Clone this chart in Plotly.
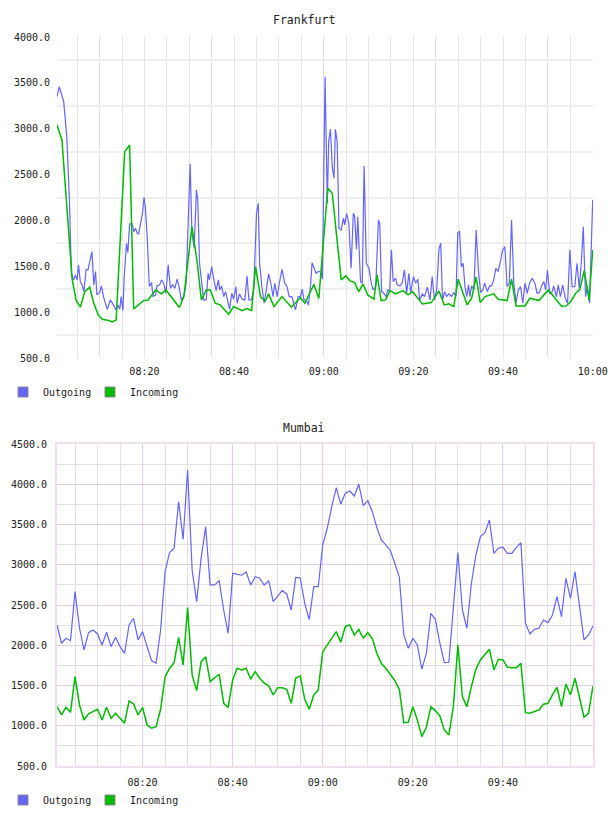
import plotly.graph_objects as go
import pandas as pd

# ---------------- data ----------------
# Frankfurt: minutes after 08:00 and values
fra_out_min = [0.5, 1.0, 2.0, 2.7, 3.3, 3.7, 4.2, 4.6, 5.0, 5.3, 5.7, 6.1, 6.5, 7.0, 7.4, 7.8, 8.3, 8.7, 9.1, 9.4,
               10.0, 10.4, 10.9, 11.7, 12.4, 13.1, 13.7, 14.1, 14.5, 14.8, 15.2, 15.5, 16.0, 16.3, 16.7, 17.3, 17.6,
               18.0, 18.4, 18.7, 19.3, 19.6, 19.9, 20.2, 20.6, 21.1, 21.6, 21.9, 22.5, 22.8, 23.4, 23.8, 24.3, 24.8,
               25.3, 25.8, 26.3, 26.8, 27.3, 27.8, 28.2, 28.8, 29.3, 29.7, 30.2, 30.6, 31.1, 31.6, 31.9, 32.3, 32.7,
               33.2, 33.8, 34.2, 34.5, 35.0, 35.5, 36.0, 36.5, 36.8, 37.2, 37.7, 38.1, 38.6, 39.0, 39.5, 39.9, 40.4,
               40.7, 41.2, 41.8, 42.4, 42.9, 43.3, 43.9, 44.4, 45.0, 45.4, 45.7, 46.2, 46.7, 47.2, 47.7, 48.2, 48.7,
               49.1, 49.6, 50.1, 50.7, 51.3, 51.8, 52.3, 52.9, 53.7, 54.3, 54.8, 55.2, 55.6, 56.1, 56.6, 57.1, 57.4,
               57.9, 58.3, 58.8, 59.3, 59.7, 60.3, 60.8, 61.1, 61.5, 61.9, 62.3, 62.6, 63.0, 63.4, 63.9, 64.4, 64.7,
               65.1, 65.6, 66.1, 66.6, 66.9, 67.3, 67.6, 68.2, 68.6, 69.0, 69.5, 70.1, 70.6, 71.0, 71.6, 72.2, 72.5,
               72.9, 73.4, 73.9, 74.3, 74.7, 75.1, 75.5, 76.0, 76.4, 77.0, 77.5, 78.0, 78.5, 79.0, 79.4, 80.0, 80.5,
               81.0, 81.4, 82.0, 82.5, 83.1, 83.7, 84.2, 84.7, 85.2, 85.7, 86.1, 86.5, 87.0, 87.4, 87.9, 88.5, 89.0,
               89.5, 89.9, 90.3, 90.7, 91.1, 91.5, 91.9, 92.3, 92.6, 93.0, 93.5, 94.0, 94.5, 95.0, 95.5, 95.9, 96.5,
               97.0, 97.4, 97.9, 98.4, 98.9, 99.4, 99.9, 100.4, 100.9, 101.4, 101.9, 102.4, 102.9, 103.4, 103.9,
               104.4, 104.9, 105.4, 105.9, 106.5, 107.1, 107.6, 108.1, 108.6, 109.1, 109.5, 109.9, 110.4, 110.8,
               111.3, 111.9, 112.3, 112.8, 113.3, 113.9, 114.4, 114.9, 115.4, 116.0, 116.5, 117.0, 117.5, 117.9,
               118.4, 118.8, 119.3, 120.0]
fra_out_val = [3350, 3458, 3295, 2896, 2187, 1424, 1351, 1406, 1351, 1515, 1333, 1297, 1224, 1467, 1460, 1569, 1660, 1297, 1442, 1188,
               1213, 1286, 1163, 1031, 1133, 1079, 1017, 1079, 1031, 1170, 1017, 1388, 1751, 1649, 1962, 1962, 1878,
               1915, 1860, 1853, 2041, 2085, 2253, 2150, 1842, 1279, 1322, 1170, 1188, 1286, 1297, 1351, 1315, 1206,
               1515, 1261, 1297, 1261, 1359, 1261, 1133, 1170, 1315, 1824, 2616, 1860, 1697, 2332, 2223, 1533, 1315,
               1133, 1133, 1424, 1351, 1496, 1351, 1235, 1351, 1242, 1286, 1170, 1224, 1133, 1031, 1206, 1141, 1279,
               1097, 1199, 1141, 1133, 1395, 1133, 1133, 1261, 2078, 2187, 1533, 1279, 1097, 1242, 1417, 1315, 1170,
               1315, 1170, 1315, 1467, 1315, 1279, 1170, 1170, 1024, 1170, 1170, 1250, 1133, 1133, 1079, 1315, 1540,
               1460, 1424, 1442, 1442, 1359, 3567, 2187, 2859, 2994, 2587, 2460, 2994, 2859, 1915, 1896, 2024, 1951,
               2078, 1969, 1479, 2078, 2049, 1686, 2041, 1333, 1315, 2594, 1533, 1479, 1315, 1242, 1279, 2005, 1962,
               1224, 1206, 1170, 1242, 1224, 1678, 1333, 1370, 1297, 1286, 1315, 1460, 1206, 1424, 1213, 1388, 1315,
               1359, 1133, 1199, 1170, 1272, 1133, 1388, 1133, 1242, 1686, 1751, 1133, 1224, 1170, 1199, 1170, 1213,
               1170, 1867, 1878, 1496, 1533, 1279, 1170, 1297, 1170, 1286, 1242, 1896, 1460, 1213, 1242, 1315, 1224,
               1286, 1286, 1344, 1479, 1442, 1551, 1678, 1715, 1279, 1315, 2005, 1315, 1097, 1242, 1279,
               1097, 1315, 1206, 1315, 1370, 1315, 1206, 1213, 1286, 1333, 1242, 1460, 1206, 1199,
               1286, 1170, 1297, 1170, 1297, 1152, 1097, 1678, 1279, 1279, 1533, 1261, 1569, 1932,
               1170, 1279, 1097, 2223]

fra_in_min = [0.5, 1.6, 3.9, 4.75, 5.7, 6.7, 7.8, 8.7, 9.7, 10.6, 12.0, 12.8, 13.7, 15.6, 16.7, 17.6, 19.8, 20.8,
              22.5, 23.8, 24.8, 27.8, 28.8, 30.6, 31.8, 32.7, 33.8, 34.7, 35.8, 36.9, 38.8, 39.9, 41.8, 42.9, 43.9,
              44.8, 45.9, 47.0, 47.7, 48.9, 50.7, 52.8, 54.8, 55.8, 57.8, 58.9, 60.9, 61.9, 63.9, 64.9, 65.8, 66.9,
              67.8, 68.8, 69.8, 71.2, 71.9, 72.8, 73.8, 74.8, 76.0, 77.7, 78.8, 79.8, 82.0, 84.0, 85.7, 86.9, 87.9,
              89.0, 90.0, 91.0, 92.0, 93.0, 94.0, 94.9, 96.0, 97.9, 98.9, 100.9, 101.9, 102.9, 104.9, 106.0, 108.0,
              110.1, 113.1, 114.1, 115.1, 116.2, 117.1, 118.1, 119.2, 120.0]
fra_in_val = [3041, 2877, 1351, 1133, 1054, 1224, 1272, 1097, 970, 923, 908, 894, 915, 2750, 2823, 1035, 1126, 1133,
              1242, 1199, 1242, 1050, 1170, 1932, 1533, 1133, 1242, 1242, 1097, 1079, 977, 1061, 1017, 1039, 1017,
              1496, 1163, 1122, 1199, 1061, 1170, 1054, 1159, 1097, 1304, 1148, 2351, 2296, 1351, 1395, 1344, 1322,
              1224, 1304, 1188, 1141, 1406, 1126, 1133, 1235, 1199, 1235, 1188, 1224, 1090, 1104, 1231, 1079, 1090,
              1061, 1359, 1206, 1079, 1152, 1381, 1104, 1170, 1199, 1141, 1126, 1359, 1068, 1068, 1152, 1126,
              1242, 1061, 1068, 1115, 1206, 1242, 1453, 1133, 1678]

# Mumbai: one sample per minute starting 08:01
mum_out = [2252, 2025, 2087, 2057, 2666, 2211, 1941, 2156, 2190, 2140,
           2004, 2161, 1983, 2099, 1983, 1900, 2252, 2335, 2066, 2169,
           1983, 1809, 1776, 2190, 2914, 3150, 3205, 3783, 3316, 4177,
           2935, 2542, 3080, 3473, 2749, 2749, 2802, 2438, 2148, 2894,
           2880, 2870, 2910, 2749, 2852, 2832, 2749, 2802, 2542, 2604,
           2678, 2637, 2438, 2844, 2839, 2521, 2320, 2728, 2728, 3246,
           3453, 3721, 3957, 3755, 3888, 3916, 3854, 4003, 3734, 3796,
           3659, 3465, 3308, 3246, 3175, 3018, 2844, 2128, 1963, 2087,
           2004, 1702, 1900, 2397, 2322, 2025, 1784, 1789, 2450, 3150,
           2438, 2211, 2770, 3121, 3349, 3398, 3556, 3142, 3205, 3217,
           3142, 3142, 3217, 3274, 2273, 2140, 2198, 2211, 2314, 2281,
           2376, 2604, 2355, 2832, 2583, 2914, 2490, 2066, 2128, 2240]
mum_in = [1237, 1134, 1229, 1167, 1610, 1258, 1072, 1147, 1175, 1205,
          1072, 1229, 1093, 1155, 1093, 1031, 1308, 1271, 1134, 1229,
          1010, 969, 989, 1205, 1610, 1714, 1784, 2099, 1755, 2467,
          1631, 1436, 1796, 1858, 1548, 1590, 1640, 1279, 1229, 1569,
          1714, 1693, 1714, 1578, 1672, 1590, 1528, 1495, 1383, 1473,
          1473, 1453, 1279, 1590, 1619, 1329, 1205, 1383, 1445, 1920,
          2004, 2087, 2169, 2037, 2231, 2252, 2128, 2198, 2087, 2156,
          2087, 1900, 1776, 1714, 1643, 1560, 1453, 1039, 1044, 1237,
          1072, 865, 981, 1237, 1188, 1122, 948, 886, 1237, 2004,
          1362, 1237, 1486, 1702, 1817, 1879, 1950, 1693, 1826, 1817,
          1726, 1722, 1722, 1776, 1163, 1155, 1175, 1196, 1267, 1279,
          1383, 1478, 1237, 1519, 1383, 1590, 1354, 1106, 1155, 1495]

series_names = ["Outgoing", "Incoming"]
fra_y_ticks = [500, 1000, 1500, 2000, 2500, 3000, 3500, 4000]
fra_y_grid = [750, 1250, 1750, 2250, 2750, 3250, 3750]
mum_y_ticks = [500, 1000, 1500, 2000, 2500, 3000, 3500, 4000, 4500]
mum_y_minor = [750, 1250, 1750, 2250, 2750, 3250, 3750, 4250]
fra_x_labels = ["08:20", "08:40", "09:00", "09:20", "09:40", "10:00"]
mum_x_labels = ["08:20", "08:40", "09:00", "09:20", "09:40"]
grid_5min = ["08:05", "08:10", "08:15", "08:20", "08:25", "08:30", "08:35", "08:40", "08:45", "08:50",
             "08:55", "09:00", "09:05", "09:10", "09:15", "09:20", "09:25", "09:30", "09:35", "09:40",
             "09:45", "09:50", "09:55", "10:00"]

DAY = "2024-01-01 "
base = pd.Timestamp(DAY + "08:00:00")


def to_times(mins):
    return [base + pd.Timedelta(minutes=m) for m in mins]


def clock(labels):
    return [DAY + s + ":00" for s in labels]


mum_times = pd.date_range(DAY + "08:01:00", periods=len(mum_out), freq="60s")

BLUE = "#6464ff"
GREEN = "#00bb00"
COLORS = [BLUE, GREEN]
FONT = "DejaVu Sans Mono"
W, H = 608, 816


def px_x(p):
    return p / W


def px_y(p):
    return (H - p) / H


fig = go.Figure()

# Frankfurt
fig.add_trace(go.Scatter(x=to_times(fra_out_min), y=fra_out_val, mode="lines", name="Outgoing",
                         line=dict(color=BLUE, width=1.2), showlegend=False, xaxis="x", yaxis="y"))
fig.add_trace(go.Scatter(x=to_times(fra_in_min), y=fra_in_val, mode="lines", name="Incoming",
                         line=dict(color=GREEN, width=1.5), showlegend=False, xaxis="x", yaxis="y"))
# Mumbai
fig.add_trace(go.Scatter(x=mum_times, y=mum_out, mode="lines", name="Outgoing",
                         line=dict(color=BLUE, width=1.2), showlegend=False, xaxis="x2", yaxis="y2"))
fig.add_trace(go.Scatter(x=mum_times, y=mum_in, mode="lines", name="Incoming",
                         line=dict(color=GREEN, width=1.5), showlegend=False, xaxis="x2", yaxis="y2"))

# legend swatches: one legend per entry so the spacing can follow the original
legend_ids = [["legend", "legend2"], ["legend3", "legend4"]]
for (xa, ya), ids in zip((("x", "y"), ("x2", "y2")), legend_ids):
    for nm, col, lg in zip(series_names, COLORS, ids):
        fig.add_trace(go.Scatter(x=[None], y=[None], mode="markers", name=nm, legend=lg,
                                 marker=dict(symbol="square", size=10, color=col,
                                             line=dict(color="#8a8a8a", width=1)),
                                 xaxis=xa, yaxis=ya))

tickfont = dict(family=FONT, size=10, color="#222")
GREY_V = "#e4e4e4"
GREY_H = "#efefef"
PINK = "#e6cce6"
PINK_BORDER = "#efdfef"
GREY_MINOR = "#e2e2e2"

legend_common = dict(orientation="h", xanchor="left", yanchor="middle",
                     bgcolor="rgba(0,0,0,0)", font=dict(family=FONT, size=10, color="#222"),
                     itemwidth=30)

fig.update_layout(
    width=W, height=H, autosize=False,
    margin=dict(l=0, r=0, t=0, b=0, pad=0, autoexpand=False),
    paper_bgcolor="white", plot_bgcolor="white",
    font=dict(family=FONT, size=10, color="#222"),
    xaxis=dict(domain=[px_x(57), px_x(593)], anchor="y", type="date",
               range=[DAY + "08:00:30", DAY + "10:00:04"],
               tickmode="array", tickvals=clock(fra_x_labels), ticktext=fra_x_labels,
               showgrid=True, gridcolor=GREY_V, gridwidth=1,
               minor=dict(tickmode="array", tickvals=clock(grid_5min), showgrid=True,
                          gridcolor=GREY_V, gridwidth=1),
               zeroline=False, showline=False, ticks="", tickfont=tickfont,
               ticklabelstandoff=6, automargin=False),
    yaxis=dict(domain=[px_y(358), px_y(37)], anchor="x",
               range=[500, 4000], tickmode="array", tickvals=fra_y_ticks, tickformat=".1f",
               showgrid=False,
               minor=dict(tickmode="array", tickvals=fra_y_grid, showgrid=True,
                          gridcolor=GREY_H, gridwidth=2),
               zeroline=False, showline=False, ticks="", tickfont=tickfont,
               ticklabelstandoff=6, automargin=False),
    xaxis2=dict(domain=[px_x(57), px_x(593)], anchor="y2", type="date",
                range=[DAY + "08:01:00", DAY + "10:00:00"],
                tickmode="array", tickvals=clock(mum_x_labels), ticktext=mum_x_labels,
                showgrid=True, gridcolor=PINK, gridwidth=1,
                minor=dict(tickmode="array", tickvals=clock(grid_5min), showgrid=True,
                           gridcolor=GREY_MINOR, gridwidth=1),
                zeroline=False, showline=True, mirror=True, linecolor=PINK_BORDER, linewidth=2,
                ticks="", tickfont=tickfont, ticklabelstandoff=6, automargin=False),
    yaxis2=dict(domain=[px_y(766), px_y(444)], anchor="x2",
                range=[500, 4500], tickmode="array", tickvals=mum_y_ticks, tickformat=".1f",
                showgrid=True, gridcolor=PINK, gridwidth=1,
                minor=dict(tickmode="array", tickvals=mum_y_minor, showgrid=True,
                           gridcolor=GREY_MINOR, gridwidth=1),
                zeroline=False, showline=True, mirror=True, linecolor=PINK_BORDER, linewidth=2,
                ticks="", tickfont=tickfont, ticklabelstandoff=6, automargin=False),
    legend=dict(x=px_x(3), y=px_y(392), **legend_common),
    legend2=dict(x=px_x(90), y=px_y(392), **legend_common),
    legend3=dict(x=px_x(3), y=px_y(800), **legend_common),
    legend4=dict(x=px_x(90), y=px_y(800), **legend_common),
    annotations=[
        dict(text="Frankfurt", x=0.5, y=px_y(20), xref="paper", yref="paper", showarrow=False,
             font=dict(family=FONT, size=11.5, color="#222"), xanchor="center", yanchor="middle"),
        dict(text="Mumbai", x=0.5, y=px_y(428), xref="paper", yref="paper", showarrow=False,
             font=dict(family=FONT, size=11.5, color="#222"), xanchor="center", yanchor="middle"),
    ],
)

fig.write_html("out.html")
